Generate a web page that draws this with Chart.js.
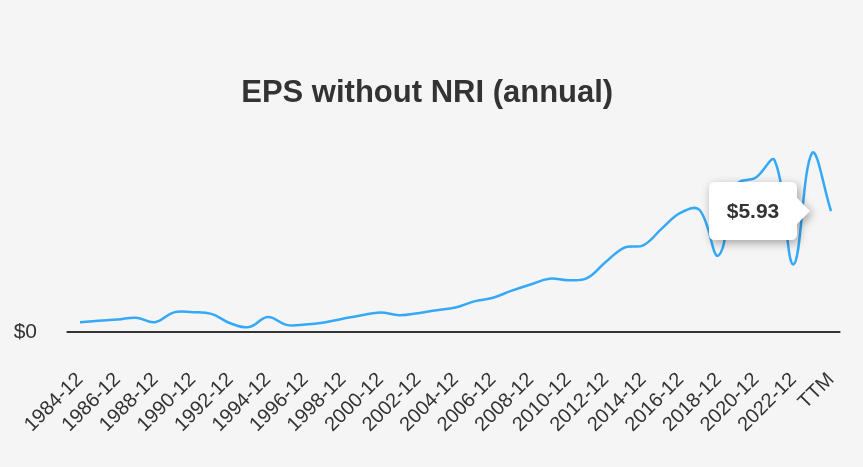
<!DOCTYPE html>
<html>
<head>
<meta charset="utf-8">
<script src="https://cdn.jsdelivr.net/npm/chart.js@4/dist/chart.umd.min.js"></script>
<style>
  html, body { margin: 0; padding: 0; background: #f5f5f5; }
  #wrap { width: 863px; height: 467px; }
</style>
</head>
<body>
<div id="wrap"><canvas id="c" width="863" height="467"></canvas></div>
<script>
const categories = ['1984-12','1985-12','1986-12','1987-12','1988-12','1989-12','1990-12','1991-12','1992-12','1993-12',
  '1994-12','1995-12','1996-12','1997-12','1998-12','1999-12','2000-12','2001-12','2002-12','2003-12',
  '2004-12','2005-12','2006-12','2007-12','2008-12','2009-12','2010-12','2011-12','2012-12','2013-12',
  '2014-12','2015-12','2016-12','2017-12','2018-12','2019-12','2020-12','2021-12','2022-12','2023-12','TTM'];
const epsValues = [0.48,0.55,0.61,0.70,0.48,0.96,0.97,0.89,0.43,0.24,
  0.73,0.35,0.37,0.47,0.65,0.82,0.96,0.82,0.92,1.07,
  1.20,1.50,1.68,2.03,2.33,2.61,2.54,2.64,3.43,4.14,
  4.25,5.08,5.85,5.98,3.75,7.23,7.57,8.41,3.31,8.79,5.93];
const yTickValues = [0];
const tooltipIndex = 40;
const tooltipText = '$5.93';

const FONT = "'Liberation Sans', Arial, Helvetica, sans-serif";

const tooltipPlugin = {
  id: 'fixedTooltip',
  afterDraw(chart) {
    const meta = chart.getDatasetMeta(0);
    const pt = meta.data[tooltipIndex];
    if (!pt) return;
    const ctx = chart.ctx;
    const caretPadding = 21, caretSize = 13, w = 88, h = 58, r = 6;
    const tipX = pt.x - caretPadding;
    const right = tipX - caretSize;
    const left = right - w;
    const top = pt.y - h / 2;
    const bottom = top + h;
    const cy = pt.y;
    ctx.save();
    ctx.beginPath();
    ctx.moveTo(left + r, top);
    ctx.lineTo(right - r, top);
    ctx.quadraticCurveTo(right, top, right, top + r);
    ctx.lineTo(right, cy - caretSize);
    ctx.lineTo(tipX, cy);
    ctx.lineTo(right, cy + caretSize);
    ctx.lineTo(right, bottom - r);
    ctx.quadraticCurveTo(right, bottom, right - r, bottom);
    ctx.lineTo(left + r, bottom);
    ctx.quadraticCurveTo(left, bottom, left, bottom - r);
    ctx.lineTo(left, top + r);
    ctx.quadraticCurveTo(left, top, left + r, top);
    ctx.closePath();
    ctx.shadowColor = 'rgba(0,0,0,0.35)';
    ctx.shadowBlur = 10;
    ctx.shadowOffsetX = 2;
    ctx.shadowOffsetY = 3;
    ctx.fillStyle = '#ffffff';
    ctx.fill();
    ctx.shadowColor = 'transparent';
    ctx.fillStyle = '#333333';
    ctx.font = 'bold 21px ' + FONT;
    ctx.textAlign = 'center';
    ctx.textBaseline = 'middle';
    ctx.fillText(tooltipText, (left + right) / 2, cy + 1);
    ctx.restore();
  }
};

Chart.defaults.font.family = FONT;
Chart.defaults.color = '#333333';

new Chart(document.getElementById('c'), {
  type: 'line',
  data: {
    labels: categories,
    datasets: [{
      data: epsValues,
      borderColor: '#35a9f7',
      borderWidth: 2.5,
      pointRadius: 0,
      pointHoverRadius: 0,
      fill: false,
      tension: 0.4
    }]
  },
  options: {
    responsive: false,
    animation: false,
    devicePixelRatio: 1,
    layout: { padding: { left: 14, right: 22.6, top: 0, bottom: 0 } },
    plugins: {
      legend: { display: false },
      tooltip: { enabled: false },
      title: {
        display: true,
        text: 'EPS without NRI (annual)',
        color: '#333333',
        font: { size: 31, weight: 'bold', family: FONT, lineHeight: 1.2 },
        padding: { top: 75, bottom: 36.2 }
      }
    },
    scales: {
      x: {
        offset: true,
        grid: { display: false, drawTicks: false },
        border: { display: false },
        ticks: {
          autoSkip: false,
          maxRotation: 45,
          minRotation: 45,
          padding: 36,
          font: { size: 20, family: FONT },
          color: '#333333',
          callback: function(v, i) { return i % 2 === 0 ? this.getLabelForValue(v) : ''; }
        },
        afterFit(scale) {
          scale.height = 135;
          scale.paddingLeft = 0; scale.paddingRight = 0;
          scale.paddingTop = 0; scale.paddingBottom = 0;
        }
      },
      y: {
        min: 0,
        max: 9,
        afterBuildTicks(scale) { scale.ticks = yTickValues.map(v => ({ value: v })); },
        grid: { color: '#333333', lineWidth: 2, tickLength: 4, drawTicks: true },
        border: { display: false },
        ticks: {
          padding: 29.6,
          font: { size: 21, family: FONT },
          color: '#333333',
          callback: v => '$' + v
        },
        afterFit(scale) {
          scale.width = 56.6;
          scale.paddingTop = 0; scale.paddingBottom = 0;
        }
      }
    }
  },
  plugins: [tooltipPlugin]
});
</script>
</body>
</html>
